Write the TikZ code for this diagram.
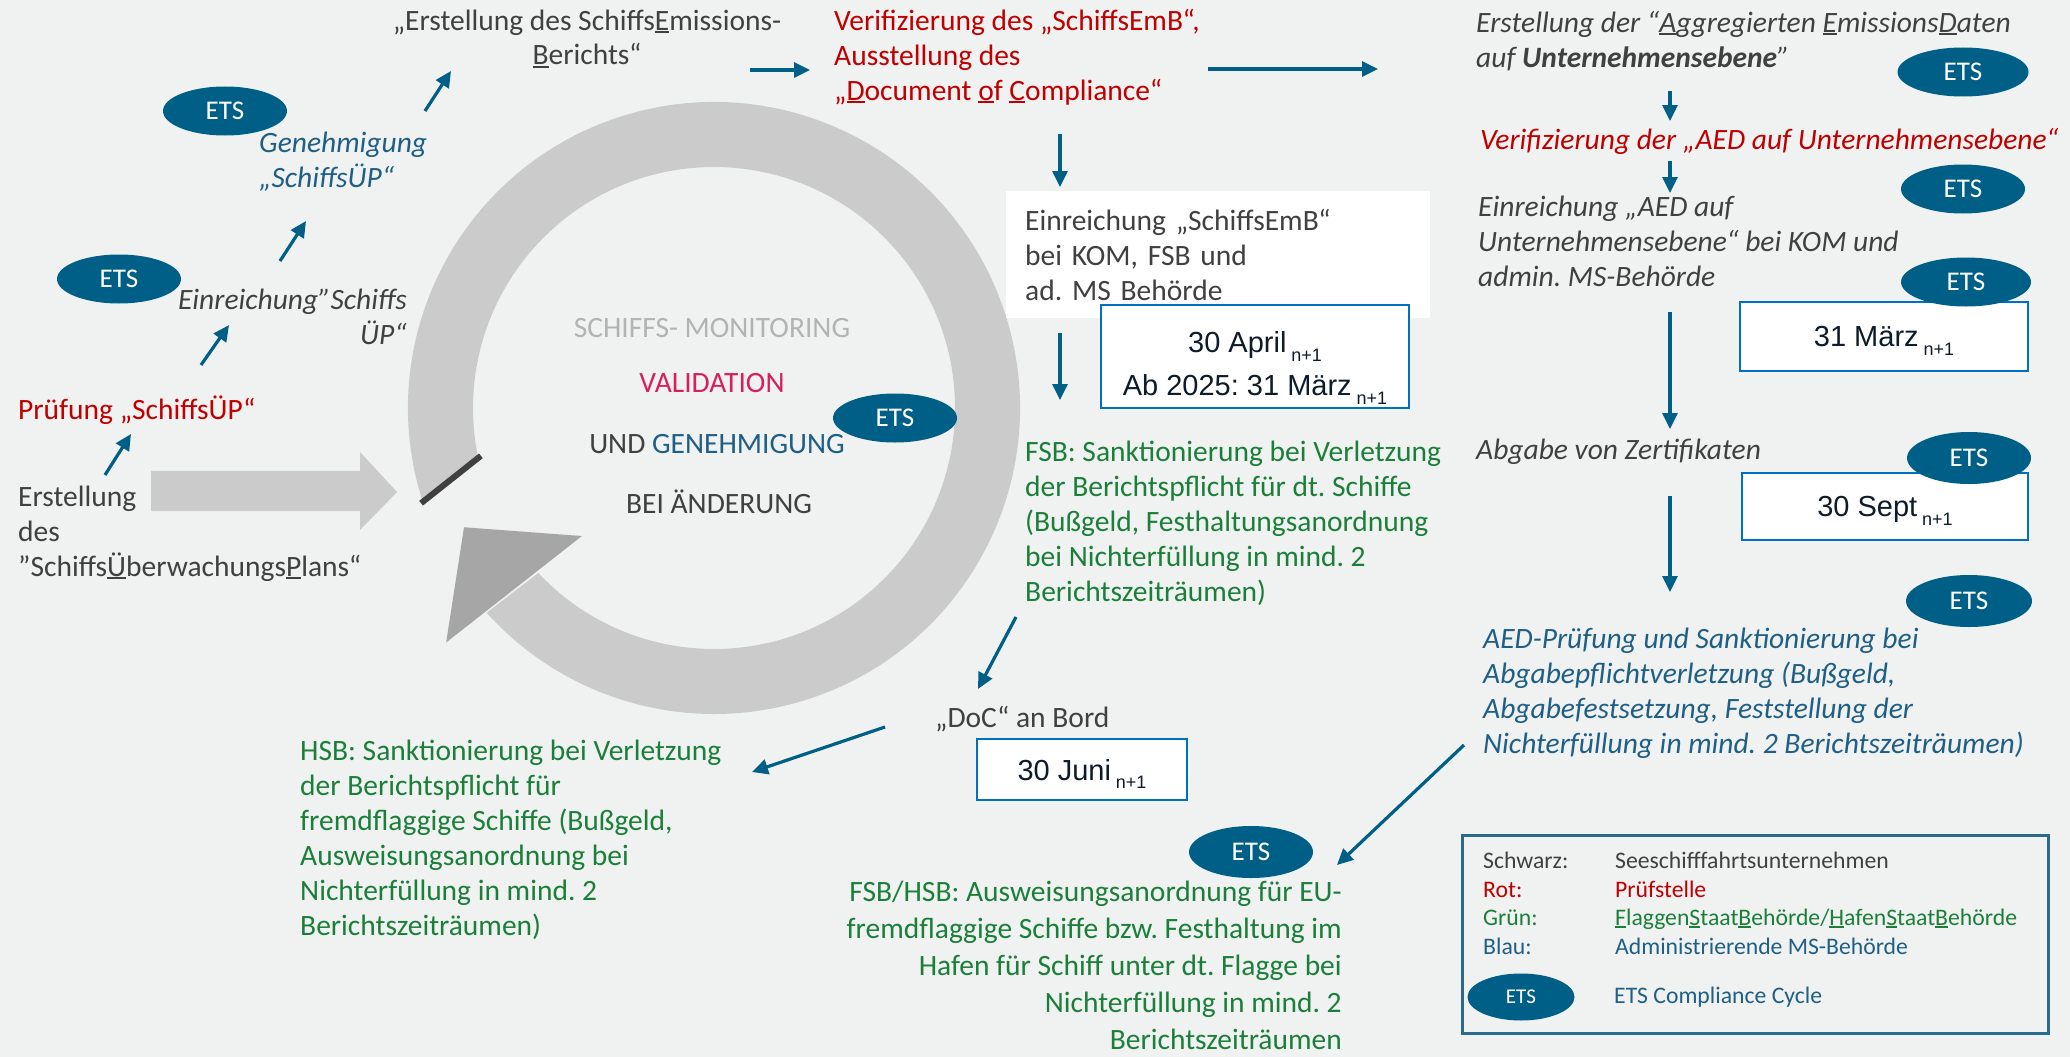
\documentclass[tikz,border=0pt]{standalone}
\usepackage{fontspec}
\setmainfont{Carlito}
\newfontfamily\arialfont{Liberation Sans}
\usetikzlibrary{arrows.meta, calc, positioning, shapes.geometric}
\frenchspacing

\definecolor{bgcol}{HTML}{F0F2F1}
\definecolor{txtgray}{HTML}{404040}
\definecolor{pruefred}{HTML}{C00000}
\definecolor{behgreen}{HTML}{1B7F3A}
\definecolor{msblue}{HTML}{1F5F86}
\definecolor{etsblue}{HTML}{005F87}
\definecolor{dateblue}{HTML}{0070C0}
\definecolor{datetxt}{HTML}{0D1B2A}
\definecolor{ringgray}{HTML}{CBCBCB}
\definecolor{headgray}{HTML}{A6A6A7}
\definecolor{lightcap}{HTML}{B3B3B3}
\definecolor{valpink}{HTML}{D6205E}
\definecolor{legframe}{HTML}{2A6A8A}

\newsavebox{\ulbox}
\newcommand{\ulet}[1]{\sbox{\ulbox}{#1}\rlap{\rule[-0.11em]{\wd\ulbox}{0.07em}}\usebox{\ulbox}}
\newcommand{\nsub}{\,\raisebox{-0.3em}{\fontsize{18}{18}\selectfont n+1}}
\newcommand{\bodyfont}{\fontsize{29.5}{35}\selectfont}
\newcommand{\datefont}{\arialfont\fontsize{29}{43}\selectfont}
\newcommand{\etsfont}{\fontsize{27}{27}\selectfont}
\newcommand{\legfont}{\fontsize{23.7}{28}\selectfont}
\newcommand{\cycfont}{\fontsize{29.5}{29.5}\selectfont}

\begin{document}
\begin{tikzpicture}[x=1pt, y=1pt,
  txt/.style={inner sep=0pt, font=\bodyfont, text=txtgray},
  ets/.style={ellipse, fill=etsblue, text=white, inner sep=0pt, minimum width=124pt, minimum height=49pt, font=\etsfont},
  flow/.style={draw=etsblue, line width=3.2pt, -{Triangle[length=16pt,width=15pt]}},
  dbox/.style={draw=dateblue, line width=2.5pt, fill=white, text=datetxt, font=\datefont, inner sep=0pt, align=center, text depth=0pt},
  cyc/.style={inner sep=0pt, font=\cycfont, anchor=base},
  leg/.style={inner sep=0pt, font=\legfont, anchor=base west}]
\useasboundingbox (0,0) rectangle (2070,-1057);
\fill[bgcol] (0,0) rectangle (2070,-1057);

% monitoring cycle
\begin{scope}[shift={(714,-408)}]
  \fill[ringgray] (198:306) arc[start angle=198, end angle=-138, radius=306]
    -- (-136.8:241) arc[start angle=-136.8, end angle=191.6, radius=241] -- cycle;
  \fill[headgray] (-135.9:184) -- (-138.8:356) -- (205.5:277) -- cycle;
  \draw[txtgray, line width=6pt] (191.6:238) -- (198:308);
\end{scope}
\fill[ringgray] (151,-471) -- (360,-471) -- (360,-452) -- (397,-492) -- (360,-530) -- (360,-511) -- (151,-511) -- cycle;

\node[cyc, text=lightcap] (mon1) at (712,-337) {SCHIFFS- MONITORING};
\node[cyc, text=valpink] (mon2) at (712,-392) {VALIDATION};
\node[cyc, text=txtgray] (mon3) at (717,-453) {UND \textcolor{msblue}{GENEHMIGUNG}};
\node[cyc, text=txtgray] (mon4) at (719,-513) {BEI ÄNDERUNG};
\node[ets] (ets3) at (895,-418) {ETS};

% left column (multi-line nodes sit on their last baseline)
\node[txt, anchor=base west, align=left] (plan) at (18,-576)
  {Erstellung\\des\\”Schiffs\ulet{Ü}berwachungs\ulet{P}lans“};
\node[txt, anchor=base west, text=pruefred] (pruef) at (18,-419) {Prüfung „SchiffsÜP“};
\node[txt, anchor=base east, align=right, font=\bodyfont\itshape] (einrplan) at (407,-344) {Einreichung”Schiffs\\ÜP“};
\node[ets] (ets1) at (119,-279) {ETS};
\node[txt, anchor=base west, align=left, text=msblue, font=\bodyfont\itshape] (genplan) at (259,-187) {Genehmigung\\„SchiffsÜP“};
\node[ets] (ets2) at (225,-111) {ETS};
\node[txt, anchor=base, align=center] (embericht) at (587,-65) {„Erstellung des Schiffs\ulet{E}missions-\\\ulet{B}erichts“};

% middle column
\node[txt, anchor=base west, align=left, text=pruefred] (verif) at (834,-100)
  {Verifizierung des „SchiffsEmB“,\\Ausstellung des\\„\ulet{D}ocument \ulet{o}f \ulet{C}ompliance“};
\node[txt, fill=white, anchor=north west, text width=386pt, inner xsep=19pt, minimum height=127pt, align=left] (einremb) at (1006,-191)
  {Einreichung „SchiffsEmB“\\bei KOM, FSB und\\ad. MS Behörde};
\node[dbox, minimum width=308pt, minimum height=103pt] (apr) at (1255,-356.5) {\rule{0pt}{35pt}30 April\nsub\\Ab 2025: 31 März\nsub};
\node[txt, anchor=base west, align=left, text=behgreen] (fsb) at (1025,-601)
  {FSB: Sanktionierung bei Verletzung\\der Berichtspflicht für dt. Schiffe\\(Bußgeld, Festhaltungsanordnung\\bei Nichterfüllung in mind. 2\\Berichtszeiträumen)};
\node[txt, anchor=base west] (doc) at (935,-727) {„DoC“ an Bord};
\node[dbox, minimum width=210pt, minimum height=61pt] (jun) at (1082,-769.5) {30 Juni\nsub};
\node[txt, anchor=base west, align=left, text=behgreen] (hsb) at (300,-935)
  {HSB: Sanktionierung bei Verletzung\\der Berichtspflicht für\\fremdflaggige Schiffe (Bußgeld,\\Ausweisungsanordnung bei\\Nichterfüllung in mind. 2\\Berichtszeiträumen)};
\node[ets, minimum height=52pt] (ets9) at (1251,-852) {ETS};
\node[txt, anchor=base east, align=right, text=behgreen, font=\fontsize{29.5}{37}\selectfont] (fsbhsb) at (1342,-1049)
  {FSB/HSB: Ausweisungsanordnung für EU-\\fremdflaggige Schiffe bzw. Festhaltung im\\Hafen für Schiff unter dt. Flagge bei\\Nichterfüllung in mind. 2\\Berichtszeiträumen};

% right column
\node[txt, anchor=base west, align=left, font=\bodyfont\itshape] (aeder) at (1476,-67)
  {Erstellung der “\ulet{A}ggregierten \ulet{E}missions\ulet{D}aten\\auf \textbf{Unternehmensebene}”};
\node[ets, minimum width=131pt] (ets4) at (1963,-72) {ETS};
\node[txt, anchor=base west, text=pruefred, font=\bodyfont\itshape] (aedver) at (1480,-149) {Verifizierung der „AED auf Unternehmensebene“};
\node[ets] (ets5) at (1963,-189) {ETS};
\node[txt, anchor=base west, align=left, font=\bodyfont\itshape] (aedein) at (1478,-286)
  {Einreichung „AED auf\\Unternehmensebene“ bei KOM und\\admin. MS-Behörde};
\node[dbox, minimum width=288pt, minimum height=69pt] (mrz) at (1884,-336.5) {31 März\nsub};
\node[ets, minimum width=130pt] (ets6) at (1966,-282) {ETS};
\node[txt, anchor=base west, font=\bodyfont\itshape] (abgabe) at (1476,-459) {Abgabe von Zertifikaten};
\node[dbox, minimum width=286pt, minimum height=67pt] (sep) at (1885,-506.5) {30 Sept\nsub};
\node[ets, minimum height=52pt] (ets7) at (1969,-458) {ETS};
\node[ets, minimum width=126pt, minimum height=52pt] (ets8) at (1969,-601) {ETS};
\node[txt, anchor=base west, align=left, text=msblue, font=\fontsize{29.5}{35}\selectfont\itshape] (aedpr) at (1483,-753)
  {AED-Prüfung und Sanktionierung bei\\Abgabepflichtverletzung (Bußgeld,\\Abgabefestsetzung, Feststellung der\\Nichterfüllung in mind. 2 Berichtszeiträumen)};

% legend
\node[draw=legframe, line width=2.5pt, minimum width=586pt, minimum height=198pt, anchor=north west, inner sep=0pt] (legend) at (1461,-834) {};
\node[leg, text=txtgray] (lk1) at (1483,-868) {Schwarz:};
\node[leg, text=txtgray] (lv1) at (1615,-868) {Seeschifffahrtsunternehmen};
\node[leg, text=pruefred] (lk2) at (1483,-897) {Rot:};
\node[leg, text=pruefred] (lv2) at (1615,-897) {Prüfstelle};
\node[leg, text=behgreen] (lk3) at (1483,-925) {Grün:};
\node[leg, text=behgreen] (lv3) at (1615,-925) {\ulet{F}laggen\ulet{S}taat\ulet{B}ehörde/\ulet{H}afen\ulet{S}taat\ulet{B}ehörde};
\node[leg, text=msblue] (lk4) at (1483,-954) {Blau:};
\node[leg, text=msblue] (lv4) at (1615,-954) {Administrierende MS-Behörde};
\node[ets, minimum width=107pt, minimum height=47pt, font=\fontsize{21}{21}\selectfont] (etsleg) at (1521,-997) {ETS};
\node[leg, text=msblue] (lv5) at (1614,-1003) {ETS Compliance Cycle};

% connectors
\coordinate (c1a) at (105,-475);  \coordinate (c1b) at (131,-434);
\coordinate (c2a) at (201,-365);  \coordinate (c2b) at (229,-325);
\coordinate (c3a) at (280,-261);  \coordinate (c3b) at (306,-221);
\coordinate (c4a) at (425,-111);  \coordinate (c4b) at (451,-71);
\coordinate (c5a) at (750,-70);   \coordinate (c5b) at (810,-70);
\coordinate (c6a) at (1208,-69);  \coordinate (c6b) at (1378,-69);
\coordinate (c7a) at (1060,-134); \coordinate (c7b) at (1060,-187);
\coordinate (c8a) at (1060,-333); \coordinate (c8b) at (1060,-400);
\coordinate (c9a) at (1016,-617); \coordinate (c9b) at (978,-689);
\coordinate (c10a) at (885,-727); \coordinate (c10b) at (752,-772);
\coordinate (c11a) at (1464,-745); \coordinate (c11b) at (1337,-865);
\coordinate (c12a) at (1670,-91);  \coordinate (c12b) at (1670,-121);
\coordinate (c13a) at (1670,-161); \coordinate (c13b) at (1670,-193);
\coordinate (c14a) at (1670,-312); \coordinate (c14b) at (1670,-429);
\coordinate (c15a) at (1670,-496); \coordinate (c15b) at (1670,-592);
\foreach \i in {1,...,15}
  \draw[flow] (c\i a) -- (c\i b);
\end{tikzpicture}
\end{document}
